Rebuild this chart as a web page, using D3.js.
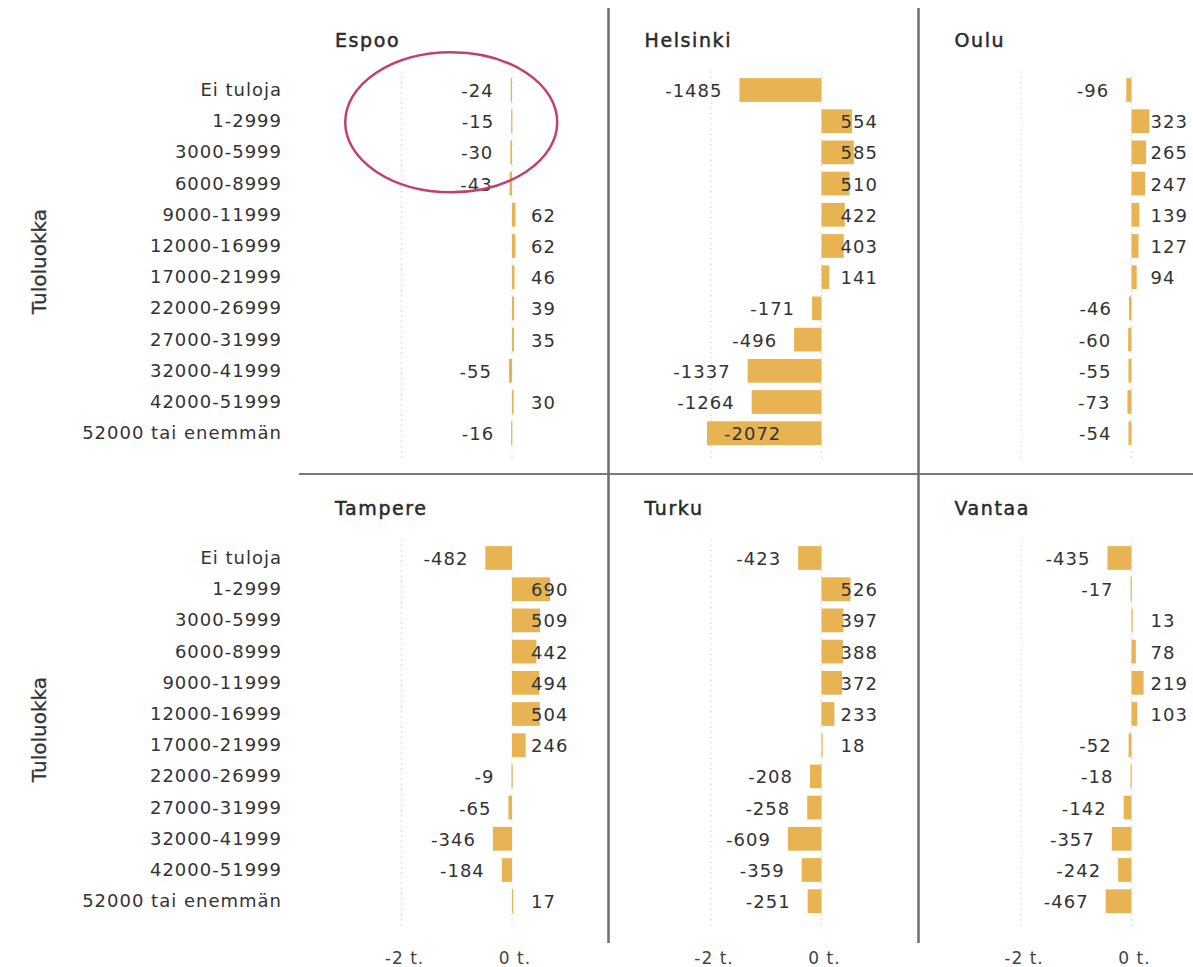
<!DOCTYPE html>
<html>
<head>
<meta charset="utf-8">
<script src="https://cdn.jsdelivr.net/npm/d3@7"></script>
<style>
  body { margin: 0; background: #fff; }
  svg text { font-family: "DejaVu Sans", sans-serif; }
  .cat { font-size: 18px; fill: #333; letter-spacing: 1px; }
  .val { font-size: 18px; fill: #333; letter-spacing: 1px; }
  .ttl { font-size: 19px; fill: #2b2b2b; stroke: #2b2b2b; stroke-width: 0.5px; letter-spacing: 1.6px; }
  .tick { font-size: 17px; fill: #444; letter-spacing: 1px; }
  .ylab { font-size: 20px; fill: #333; stroke: #333; stroke-width: 0.3px; }
</style>
</head>
<body>
<div id="chart"></div>
<script>
"use strict"

// income classes (y axis)
const categories = ["Ei tuloja", "1-2999", "3000-5999", "6000-8999", "9000-11999", "12000-16999",
  "17000-21999", "22000-26999", "27000-31999", "32000-41999", "42000-51999", "52000 tai enemmän"];

const cities = ["Espoo", "Helsinki", "Oulu", "Tampere", "Turku", "Vantaa"];

const espoo    = [-24, -15, -30, -43, 62, 62, 46, 39, 35, -55, 30, -16];
const helsinki = [-1485, 554, 585, 510, 422, 403, 141, -171, -496, -1337, -1264, -2072];
const oulu     = [-96, 323, 265, 247, 139, 127, 94, -46, -60, -55, -73, -54];
const tampere  = [-482, 690, 509, 442, 494, 504, 246, -9, -65, -346, -184, 17];
const turku    = [-423, 526, 397, 388, 372, 233, 18, -208, -258, -609, -359, -251];
const vantaa   = [-435, -17, 13, 78, 219, 103, -52, -18, -142, -357, -242, -467];

const xTicks = [-2000, 0];
const xTickLabels = ["-2 t.", "0 t."];
const yTitle = "Tuloluokka";

const series = [espoo, helsinki, oulu, tampere, turku, vantaa];

const W = 1193, H = 967;
const colZero = [512, 821.5, 1131.5];   // where 0 sits in each column
const rowTop = [74.4, 542.4];            // top of the band area in each row
const bandH = 374.4;
const tickW = 110.5;                     // pixels for 2000 units
const barColor = "#E8B453";

const svg = d3.select("#chart").append("svg")
  .attr("width", W).attr("height", H);

// panel separators
svg.append("line")
  .attr("x1", 299).attr("x2", W).attr("y1", 474).attr("y2", 474)
  .attr("stroke", "#7a7a7a").attr("stroke-width", 2);
[608.5, 918.5].forEach(x => {
  svg.append("line")
    .attr("x1", x).attr("x2", x).attr("y1", 8).attr("y2", 943)
    .attr("stroke", "#6e6e6e").attr("stroke-width", 2.5);
});

cities.forEach((city, i) => {
  const col = i % 3, row = Math.floor(i / 3);
  const values = series[i];
  const x0 = colZero[col];

  const x = d3.scaleLinear().domain([-2000, 0]).range([x0 - tickW, x0]);
  const y = d3.scaleBand().domain(categories)
    .range([rowTop[row], rowTop[row] + bandH])
    .paddingInner(0.24).paddingOuter(0.12);

  const g = svg.append("g").attr("class", "panel");

  // dotted gridlines
  g.selectAll(".grid").data(xTicks).enter().append("line")
    .attr("x1", d => x(d)).attr("x2", d => x(d))
    .attr("y1", rowTop[row] - 3).attr("y2", rowTop[row] + bandH + 10)
    .attr("stroke", "#cfcfcf").attr("stroke-width", 1.2)
    .attr("stroke-dasharray", "1.2,4");

  // title
  g.append("text").attr("class", "ttl")
    .attr("x", x0 - 177).attr("y", rowTop[row] - 27)
    .text(city);

  // category labels only in first column
  if (col === 0) {
    g.selectAll(".cat").data(categories).enter().append("text")
      .attr("class", "cat")
      .attr("x", 282).attr("y", d => y(d) + y.bandwidth() / 2 + 6)
      .attr("text-anchor", "end")
      .text(d => d);
    g.append("text").attr("class", "ylab")
      .attr("transform", `translate(46,${rowTop[row] + bandH / 2})rotate(-90)`)
      .attr("text-anchor", "middle")
      .text(yTitle);
  }

  const data = categories.map((c, k) => ({cat: c, v: values[k]}));

  g.selectAll(".bar").data(data).enter().append("rect")
    .attr("class", "bar")
    .attr("x", d => Math.min(x(d.v), x(0)))
    .attr("y", d => y(d.cat))
    .attr("width", d => Math.max(1.2, Math.abs(x(d.v) - x(0))))
    .attr("height", y.bandwidth())
    .attr("fill", barColor);

  g.selectAll(".val").data(data).enter().append("text")
    .attr("class", "val")
    .attr("y", d => y(d.cat) + y.bandwidth() / 2 + 7)
    .attr("x", d => {
      if (d.v >= 0) return x(0) + 19;
      if (d.v < x.domain()[0]) return x(d.v) + 17;
      return x(d.v) - 17;
    })
    .attr("text-anchor", d => (d.v >= 0 || d.v < x.domain()[0]) ? "start" : "end")
    .text(d => d.v);

  // x tick labels on bottom row
  if (row === 1) {
    g.selectAll(".tick").data(xTicks).enter().append("text")
      .attr("class", "tick")
      .attr("x", d => x(d) + 3).attr("y", 964)
      .attr("text-anchor", "middle")
      .text((d, k) => xTickLabels[k]);
  }

  // annotation circle round the small Espoo values
  if (city === "Espoo") {
    svg.append("ellipse")
      .attr("cx", x(-1100)).attr("cy", y(categories[1]) + y.bandwidth() / 2 + 1)
      .attr("rx", 106).attr("ry", 70)
      .attr("fill", "none").attr("stroke", "#C2416A").attr("stroke-width", 2.5);
  }
});
</script>
</body>
</html>
